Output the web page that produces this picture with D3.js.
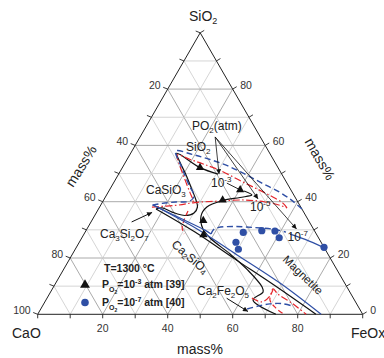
<!DOCTYPE html>
<html>
<head>
<meta charset="utf-8">
<script src="https://cdn.jsdelivr.net/npm/d3@7"></script>
<style>
  html, body { margin: 0; padding: 0; background: #fff; }
  svg { display: block; font-family: "Liberation Sans", Arial, sans-serif; }
</style>
</head>
<body>
<svg id="chart" width="384" height="358"></svg>
<script>
// every composition is [FeOx, SiO2] in mass%, CaO is what is left
const gridSteps = [10, 20, 30, 40, 50, 60, 70, 80, 90];
const caoTicks = [20, 40, 60, 80, 100];
const sio2Ticks = [0, 20, 40, 60, 80];
const feoxTicks = [20, 40, 60, 80];

const triangles1e3 = [[23.9, 52.1], [40.2, 44.2], [36.6, 40.6], [34.3, 33.3], [36.9, 28.2]];
const circles1e7 = [[48.7, 29.1], [54.1, 29.7], [58.2, 29.6], [60.7, 27.2], [48.2, 25.6], [50.2, 23.1], [76.2, 23.8]];

// black solid, 1e-3 atm
const blackLoop = [[30.6, 49.8], [23.9, 52.1], [14.2, 57.2], [16.7, 54.1], [20.9, 49.5], [25.4, 44.2], [28.4, 40.6],
  [30.1, 38.1], [30.1, 36.0], [27.8, 35.1], [23.2, 36.3], [19.4, 37.8], [17.7, 37.4]];
const blackLower = [[17.7, 37.4], [33.8, 29.2], [50.9, 19.6], [68.0, 10.1], [85.6, 0]];
const blackMagnetite = [[41.6, 43.8], [44.7, 42.4], [41.5, 41.5], [36.8, 40.4], [33.0, 38.1], [32.8, 34.9], [35.7, 30.3],
  [39.5, 27.1], [48.5, 21.4], [56.8, 15.7], [64.2, 9.7], [65.4, 7.9], [63.7, 5.1], [73.3, 0]];

// red dash-dot, 1e-5 atm
const redSilica = [[57.8, 37.8], [55.7, 39.5], [50.4, 42.2], [44.4, 44.9], [38.5, 47.5], [30.6, 51.1], [24.2, 53.4],
  [19.4, 55.0], [14.6, 56.6], [16.6, 53.7], [20.6, 48.8], [25.1, 43.4], [27.5, 40.6], [28.2, 39.2]];
const redMiddle = [[16.1, 38.1], [23.8, 38.8], [28.5, 39.7], [35.4, 40.2], [43.5, 40.6], [50.0, 39.9], [55.2, 38.7], [57.8, 37.8]];
const redPiece = [[27.9, 36.7], [28.3, 33.5], [29.1, 30.7], [30.8, 28.5]];
const redBottom = [[63.0, 5.8], [66.8, 4.4], [68.2, 6.5], [67.9, 9.0], [70.3, 7.2], [76.2, 4.0], [82.6, 0]];
const redBottomDash = [[68.1, 8.6], [68.9, 5.1], [72.2, 2.2], [75.8, 0]];

// blue, 1e-7 atm
const blueSilica = [[62.6, 37.4], [58.4, 40.2], [52.9, 43.3], [45.7, 46.6], [38.9, 49.8], [32.2, 52.7], [25.5, 55.0],
  [19.1, 56.8], [13.5, 58.0], [18.4, 52.0], [23.6, 45.9], [27.1, 42.0], [26.7, 40.2], [22.6, 39.9], [18.6, 39.4], [15.5, 38.6]];
const blueLower = [[16.1, 38.8], [33.9, 30.3], [50.8, 21.1], [69.0, 11.1], [87.2, 0]];
const blueUpper = [[16.1, 38.8], [26.7, 34.2], [36.5, 29.9], [39.1, 28.5]];
const blueMagnetite = [[39.1, 28.5], [39.0, 29.9], [40.1, 30.8], [45.1, 31.2], [51.4, 30.8], [56.9, 30.3], [61.8, 29.2]];
const blueRight = [[63.4, 28.5], [69.0, 26.6], [76.4, 23.6]];
const blueBottom = [[63.5, 1.9], [66.3, 2.9], [69.6, 3.7], [73.2, 3.8], [77.1, 2.9]];

// pointers
const poOrigin = [23.1, 63.0];
const poTargets = [[30.9, 49.8], [47.3, 41.0], [64.5, 30.3]];
const arrows = [[[12.5, 32.8], [17.1, 36.2]], [[55.3, 5.7], [64.2, 1.0]]];
const label3Pointer = [[34.9, 46.6], [40.2, 44.2]];

const BLACK = '#111', RED = '#e4252b', BLUE = '#2f4fa5';

const svg = d3.select('#chart');
const x = d3.scaleLinear().domain([0, 100]).range([37.7, 362.7]);
const y = d3.scaleLinear().domain([0, 100]).range([314.3, 32.8]);
const px = d => x(d[0] + d[1] / 2);
const py = d => y(d[1]);
const smooth = d3.line().x(px).y(py).curve(d3.curveCatmullRom.alpha(0.5));
const straight = d3.line().x(px).y(py);

svg.append('defs').append('marker')
  .attr('id', 'head').attr('viewBox', '0 0 10 10')
  .attr('refX', 10).attr('refY', 5)
  .attr('markerWidth', 6).attr('markerHeight', 5)
  .attr('markerUnits', 'userSpaceOnUse')
  .attr('orient', 'auto')
  .append('path').attr('d', 'M0,0L10,5L0,10z').attr('fill', BLACK);

// grid
const grid = svg.append('g');
gridSteps.forEach(v => {
  const col = v % 20 === 0 ? '#a0a0a0' : '#d0d0d0';
  [[[0, v], [100 - v, v]], [[v, 0], [v, 100 - v]], [[100 - v, 0], [0, 100 - v]]].forEach(seg => {
    grid.append('path').attr('d', straight(seg)).attr('stroke', col).attr('stroke-width', 0.9).attr('fill', 'none');
  });
});

// outline
svg.append('path').attr('d', straight([[0, 0], [100, 0], [0, 100], [0, 0]]) + 'Z')
  .attr('stroke', '#222').attr('stroke-width', 1).attr('fill', 'none');

// ticks
const ticks = svg.append('g').attr('stroke', '#222').attr('stroke-width', 0.9);
gridSteps.concat([0, 100]).forEach(v => {
  const l = [0, v], r = [100 - v, v], b = [v, 0];
  ticks.append('line').attr('x1', px(l)).attr('y1', py(l)).attr('x2', px(l) - 4.5).attr('y2', py(l) - 1.8);
  ticks.append('line').attr('x1', px(r)).attr('y1', py(r)).attr('x2', px(r) + 4).attr('y2', py(r) - 2.4);
  ticks.append('line').attr('x1', px(b)).attr('y1', py(b)).attr('x2', px(b)).attr('y2', py(b) + 4);
});

const tl = svg.append('g').attr('font-size', 10.5).attr('fill', '#333');
caoTicks.forEach(c => {
  const p = [0, 100 - c];
  tl.append('text').attr('x', px(p) - 7).attr('y', py(p) - 0.5).attr('text-anchor', 'end').text(c);
});
sio2Ticks.forEach(s => {
  const p = [100 - s, s];
  tl.append('text').attr('x', px(p) + 7.5).attr('y', py(p) - 0.5).text(s);
});
feoxTicks.forEach(f => {
  const p = [f, 0];
  tl.append('text').attr('x', px(p)).attr('y', py(p) + 17.5).attr('text-anchor', 'middle').text(f);
});

// curves
const curves = [
  [blackLoop, BLACK, 1.2, null],
  [blackLower, BLACK, 1.2, null],
  [blackMagnetite, BLACK, 1.2, null],
  [redSilica, RED, 1.2, '7,2.5,1.5,2.5'],
  [redMiddle, RED, 1.2, '7,2.5,1.5,2.5'],
  [redPiece, RED, 1.2, '5,3'],
  [redBottom, RED, 1.2, '7,2.5,1.5,2.5'],
  [redBottomDash, RED, 1.2, '5,3'],
  [blueSilica, BLUE, 1.4, '6,3.5'],
  [blueLower, BLUE, 1.2, null],
  [blueUpper, BLUE, 1.2, null],
  [blueMagnetite, BLUE, 1.4, '6,3.5'],
  [blueRight, BLUE, 1.2, null],
  [blueBottom, BLUE, 1.4, '6,3.5']
];
curves.forEach(([pts, col, w, dash]) => {
  svg.append('path').attr('d', smooth(pts)).attr('stroke', col).attr('stroke-width', w)
    .attr('fill', 'none').attr('stroke-dasharray', dash);
});

// pointers and arrows
poTargets.forEach(t => {
  svg.append('path').attr('d', straight([poOrigin, t])).attr('stroke', BLACK).attr('stroke-width', 0.8)
    .attr('marker-end', 'url(#head)');
});
svg.append('path').attr('d', straight(label3Pointer)).attr('stroke', BLACK).attr('stroke-width', 0.9);
arrows.forEach(a => {
  svg.append('path').attr('d', straight(a)).attr('stroke', BLACK).attr('stroke-width', 1)
    .attr('marker-end', 'url(#head)');
});

// data points
svg.selectAll('path.tri').data(triangles1e3).enter().append('path')
  .attr('class', 'tri')
  .attr('d', d3.symbol().type(d3.symbolTriangle).size(30))
  .attr('transform', d => `translate(${px(d)},${py(d)})`)
  .attr('fill', BLACK);
svg.selectAll('circle.pt').data(circles1e7).enter().append('circle')
  .attr('class', 'pt')
  .attr('cx', px).attr('cy', py).attr('r', 3.6)
  .attr('fill', BLUE);

// axis titles
const at = svg.append('g').attr('font-size', 14).attr('fill', '#222');
const sio2 = at.append('text').attr('x', 189).attr('y', 21);
sio2.append('tspan').text('SiO');
sio2.append('tspan').attr('font-size', 9).attr('dy', 3).text('2');
at.append('text').attr('x', 12).attr('y', 338).text('CaO');
at.append('text').attr('x', 351).attr('y', 338).text('FeOx');
at.append('text').attr('x', 200).attr('y', 354).attr('text-anchor', 'middle').text('mass%');
at.append('text').attr('transform', 'translate(81,166) rotate(-58)').attr('text-anchor', 'middle')
  .attr('dominant-baseline', 'central').text('mass%');
at.append('text').attr('transform', 'translate(320,159) rotate(60)').attr('text-anchor', 'middle')
  .attr('dominant-baseline', 'central').text('mass%');

// annotations
const an = svg.append('g').attr('font-size', 12).attr('fill', '#222');
function sub(t, main, s, dy) {
  t.append('tspan').text(main);
  t.append('tspan').attr('font-size', 8).attr('dy', dy).text(s);
  return t;
}
const po = an.append('text').attr('x', 192).attr('y', 130);
po.append('tspan').text('PO');
po.append('tspan').attr('font-size', 8).attr('dy', 3).text('2');
po.append('tspan').attr('dy', -3).text('(atm)');

sub(an.append('text').attr('x', 186).attr('y', 151), 'SiO', '2', 3);

[['-3', 211, 187], ['-5', 250, 211], ['-7', 287.5, 240.5]].forEach(([e, tx, ty]) => {
  const t = an.append('text').attr('x', tx).attr('y', ty);
  t.append('tspan').text('10');
  t.append('tspan').attr('font-size', 8).attr('dy', -5).text(e);
});

const cs = an.append('text').attr('x', 146).attr('y', 194);
cs.append('tspan').text('CaSiO');
cs.append('tspan').attr('font-size', 8).attr('dy', 3).text('3');

const c3 = an.append('text').attr('x', 100).attr('y', 238);
c3.append('tspan').text('Ca');
c3.append('tspan').attr('font-size', 8).attr('dy', 3).text('3');
c3.append('tspan').attr('dy', -3).text('Si');
c3.append('tspan').attr('font-size', 8).attr('dy', 3).text('2');
c3.append('tspan').attr('dy', -3).text('O');
c3.append('tspan').attr('font-size', 8).attr('dy', 3).text('7');

const c2s = an.append('text').attr('transform', 'translate(190,257) rotate(41)')
  .attr('text-anchor', 'middle').attr('dominant-baseline', 'central');
c2s.append('tspan').text('Ca');
c2s.append('tspan').attr('font-size', 8).attr('dy', 3).text('2');
c2s.append('tspan').attr('dy', -3).text('SiO');
c2s.append('tspan').attr('font-size', 8).attr('dy', 3).text('4');

an.append('text').attr('transform', 'translate(303,275) rotate(44)').attr('font-size', 11.5)
  .attr('text-anchor', 'middle').attr('dominant-baseline', 'central').text('Magnetite');

const cf = an.append('text').attr('x', 197).attr('y', 295);
cf.append('tspan').text('Ca');
cf.append('tspan').attr('font-size', 8).attr('dy', 3).text('2');
cf.append('tspan').attr('dy', -3).text('Fe');
cf.append('tspan').attr('font-size', 8).attr('dy', 3).text('2');
cf.append('tspan').attr('dy', -3).text('O');
cf.append('tspan').attr('font-size', 8).attr('dy', 3).text('5');

// legend
const lg = svg.append('g').attr('font-size', 10.5).attr('font-weight', 'bold').attr('fill', '#222');
lg.append('text').attr('x', 104).attr('y', 272).text('T=1300 °C');
lg.append('path').attr('d', d3.symbol().type(d3.symbolTriangle).size(42)).attr('transform', 'translate(85,285)').attr('fill', BLACK);
lg.append('circle').attr('cx', 85).attr('cy', 302.5).attr('r', 3.8).attr('fill', BLUE);
[['-3', '39', 288], ['-7', '40', 306]].forEach(([e, ref, ty]) => {
  const t = lg.append('text').attr('x', 102).attr('y', ty);
  t.append('tspan').text('P');
  t.append('tspan').attr('font-size', 7).attr('dy', 4).text('O');
  t.append('tspan').attr('font-size', 5).attr('dy', 1.5).text('2');
  t.append('tspan').attr('dy', -5.5).text('=10');
  t.append('tspan').attr('font-size', 7).attr('dy', -4).text(e);
  t.append('tspan').attr('dy', 4).text(' atm [' + ref + ']');
});
</script>
</body>
</html>
